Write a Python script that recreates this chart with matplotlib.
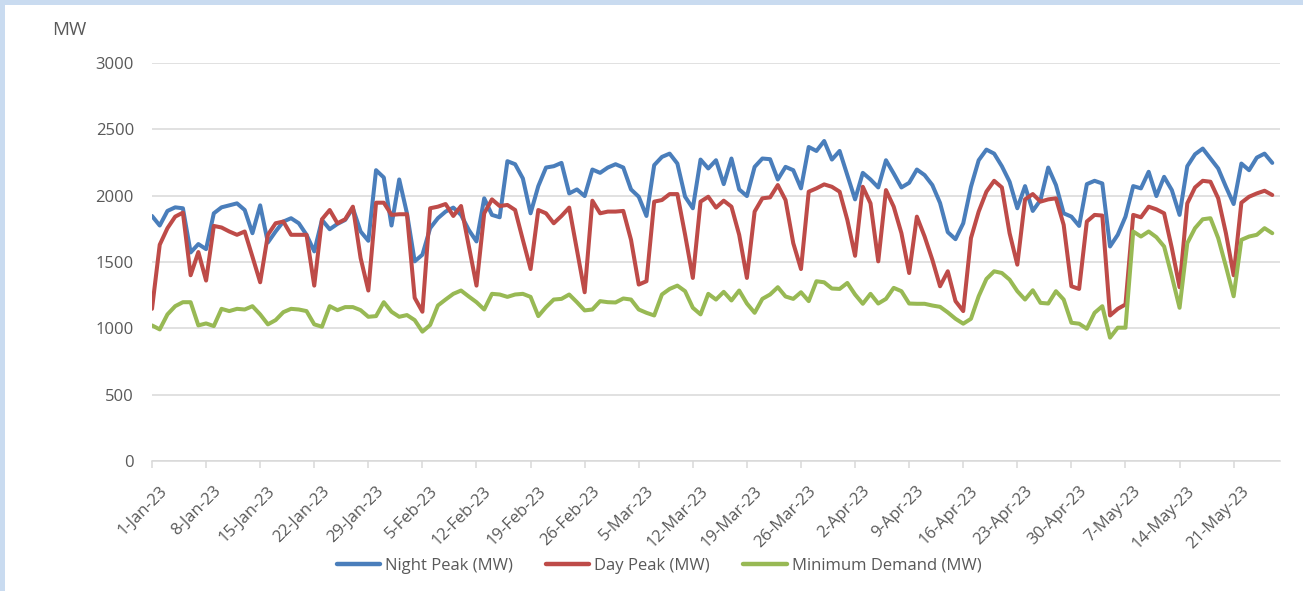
import numpy as np
import matplotlib
matplotlib.use('Agg')
import matplotlib.pyplot as plt
import matplotlib.transforms as mtransforms
from matplotlib.patches import Rectangle
from matplotlib.lines import Line2D

# daily values, 1-Jan-23 .. 26-May-23 (one row per week)
night_peak = [
    1847, 1775, 1885, 1912, 1905, 1572, 1635,
    1597, 1867, 1912, 1927, 1942, 1892, 1717,
    1927, 1647, 1730, 1805, 1830, 1792, 1705,
    1580, 1817, 1747, 1787, 1817, 1905, 1730,
    1660, 2192, 2137, 1775, 2122, 1867, 1505,
    1555, 1755, 1830, 1880, 1910, 1855, 1742,
    1655, 1980, 1855, 1837, 2260, 2237, 2130,
    1867, 2072, 2212, 2222, 2247, 2017, 2047,
    1997, 2197, 2172, 2212, 2237, 2212, 2047,
    1992, 1847, 2230, 2292, 2317, 2242, 1992,
    1905, 2272, 2205, 2267, 2087, 2280, 2047,
    1997, 2217, 2280, 2275, 2122, 2217, 2192,
    2055, 2367, 2337, 2412, 2272, 2337, 2155,
    1972, 2172, 2122, 2062, 2267, 2167, 2062,
    2097, 2197, 2155, 2080, 1945, 1725, 1672,
    1792, 2067, 2267, 2347, 2317, 2222, 2105,
    1905, 2072, 1885, 1967, 2212, 2080, 1867,
    1842, 1772, 2087, 2112, 2092, 1617, 1705,
    1842, 2072, 2055, 2180, 1997, 2142, 2042,
    1855, 2222, 2312, 2355, 2280, 2205, 2067,
    1937, 2242, 2192, 2287, 2317, 2247,
]
day_peak = [
    1147, 1630, 1755, 1842, 1872, 1400, 1575,
    1360, 1772, 1760, 1730, 1705, 1730, 1540,
    1347, 1705, 1792, 1805, 1705, 1705, 1705,
    1322, 1822, 1892, 1792, 1822, 1917, 1530,
    1285, 1947, 1947, 1855, 1860, 1860, 1230,
    1125, 1905, 1917, 1937, 1847, 1922, 1620,
    1322, 1867, 1972, 1922, 1930, 1892, 1667,
    1447, 1892, 1867, 1792, 1847, 1910, 1592,
    1272, 1962, 1867, 1880, 1880, 1885, 1667,
    1330, 1355, 1955, 1967, 2012, 2012, 1705,
    1380, 1955, 1992, 1910, 1962, 1917, 1705,
    1380, 1880, 1980, 1987, 2080, 1967, 1642,
    1447, 2030, 2055, 2085, 2067, 2030, 1817,
    1547, 2067, 1942, 1505, 2042, 1917, 1717,
    1417, 1842, 1692, 1517, 1317, 1430, 1205,
    1130, 1680, 1880, 2030, 2112, 2062, 1717,
    1480, 1972, 2012, 1955, 1972, 1980, 1780,
    1317, 1297, 1805, 1855, 1850, 1097, 1147,
    1180, 1855, 1837, 1917, 1897, 1867, 1605,
    1310, 1942, 2062, 2112, 2105, 1980, 1717,
    1400, 1947, 1992, 2017, 2037, 2005,
]
min_demand = [
    1022, 992, 1105, 1167, 1197, 1197, 1022,
    1037, 1017, 1147, 1130, 1147, 1142, 1167,
    1105, 1030, 1062, 1122, 1147, 1142, 1130,
    1030, 1012, 1167, 1137, 1160, 1160, 1137,
    1087, 1092, 1197, 1125, 1087, 1100, 1062,
    975, 1025, 1172, 1217, 1260, 1285, 1240,
    1197, 1142, 1260, 1255, 1237, 1255, 1260,
    1237, 1092, 1160, 1217, 1222, 1255, 1197,
    1135, 1142, 1205, 1197, 1195, 1225, 1217,
    1142, 1117, 1097, 1255, 1297, 1322, 1280,
    1155, 1105, 1260, 1217, 1275, 1210, 1285,
    1187, 1117, 1222, 1255, 1310, 1240, 1222,
    1272, 1205, 1355, 1347, 1300, 1297, 1342,
    1255, 1185, 1260, 1187, 1222, 1305, 1280,
    1187, 1185, 1185, 1172, 1162, 1120, 1072,
    1035, 1072, 1242, 1372, 1430, 1417, 1367,
    1280, 1217, 1287, 1192, 1187, 1280, 1217,
    1042, 1035, 997, 1117, 1167, 930, 1005,
    1005, 1730, 1692, 1730, 1687, 1617, 1392,
    1155, 1642, 1755, 1822, 1830, 1680, 1467,
    1242, 1667, 1692, 1705, 1755, 1717,
]
tick_labels = ['1-Jan-23', '8-Jan-23', '15-Jan-23', '22-Jan-23', '29-Jan-23',
               '5-Feb-23', '12-Feb-23', '19-Feb-23', '26-Feb-23', '5-Mar-23',
               '12-Mar-23', '19-Mar-23', '26-Mar-23', '2-Apr-23', '9-Apr-23',
               '16-Apr-23', '23-Apr-23', '30-Apr-23', '7-May-23', '14-May-23',
               '21-May-23']
series_names = ['Night Peak (MW)', 'Day Peak (MW)', 'Minimum Demand (MW)']
colors = ['#4a7ebb', '#be4b48', '#98b954']

plt.rcParams['font.family'] = ['Open Sans', 'DejaVu Sans']
txt = '#595959'
grid = '#d9d9d9'

W, H = 1303, 591
fig = plt.figure(figsize=(W / 100, H / 100), dpi=100)
fig.patch.set_facecolor('#c9dbf0')
fig.patches.append(Rectangle((5 / W, 0), 1, 1 - 5 / H, transform=fig.transFigure,
                             facecolor='white', edgecolor='none', zorder=-10))

ax = fig.add_axes([152 / W, 1 - 461 / H, (1280 - 152) / W, (461 - 63) / H])
ax.set_zorder(2)
ax.set_facecolor('none')

x = np.arange(len(night_peak))
for vals, c in zip([night_peak, day_peak, min_demand], colors):
    ax.plot(x, vals, color=c, lw=2.9, solid_joinstyle='round', solid_capstyle='round')

ax.set_xlim(0, 146)
ax.set_ylim(0, 3000)
ax.set_yticks(np.arange(0, 3001, 500))
ax.yaxis.grid(True, color=grid, lw=1.1)
ax.set_axisbelow(True)
for s in ['top', 'right', 'left']:
    ax.spines[s].set_visible(False)
ax.spines['bottom'].set_color(grid)
ax.spines['bottom'].set_linewidth(1.1)

ax.set_xticks(np.arange(0, 141, 7))
ax.set_xticklabels(tick_labels, rotation=45, ha='right', va='top', rotation_mode='anchor')
ax.tick_params(axis='x', direction='out', length=5, color=grid, width=1.1,
               pad=11, labelsize=12, labelcolor=txt)
ax.tick_params(axis='y', length=0, pad=13, labelsize=12, labelcolor=txt)
off = mtransforms.ScaledTranslation(7 / 100, 0, fig.dpi_scale_trans)
for lab in ax.get_xticklabels():
    lab.set_transform(lab.get_transform() + off)

fig.text(52 / W, 1 - 30 / H, 'MW', ha='left', va='center', fontsize=13.5, color=txt)

handles = [Line2D([], [], color=c, lw=3.2, solid_capstyle='round') for c in colors]
fig.legend(handles, series_names, loc='center', bbox_to_anchor=(659 / W, 1 - 566 / H),
           ncol=3, frameon=False, fontsize=12, labelcolor=txt,
           handlelength=2.6, handletextpad=0.3, columnspacing=2.0)

fig.savefig('out.png', dpi=100, facecolor=fig.get_facecolor())
